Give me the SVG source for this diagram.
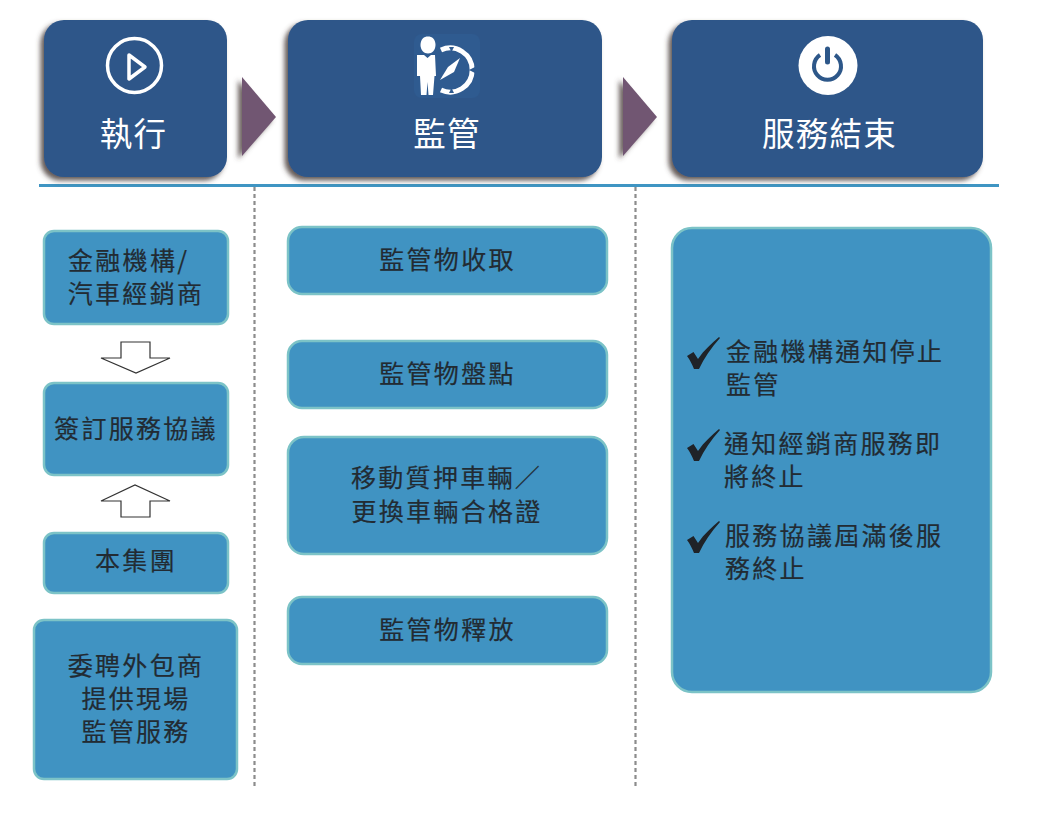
<svg xmlns="http://www.w3.org/2000/svg" width="1037" height="814" viewBox="0 0 1037 814">
<style>
text{font-family:"Noto Sans CJK TC","Noto Sans CJK SC",sans-serif;}
.h{fill:#2d5789;filter:url(#sh);}
.hd{font-size:32.500px;fill:#fff;text-anchor:middle;letter-spacing:1.2px;}
.b{fill:#4093c2;stroke:#7cc3c7;stroke-width:2.5;}
.t{font-size:25px;fill:#222b33;text-anchor:middle;letter-spacing:2.3px;stroke:#222b33;stroke-width:.2;}
.l{font-size:25px;fill:#222b33;letter-spacing:2.3px;stroke:#222b33;stroke-width:.2;}
.s{text-anchor:start;}
.a{fill:#fff;stroke:#333;stroke-width:1.2;}
.d{stroke:#8c8c8c;stroke-width:2.2;stroke-dasharray:4 3;fill:none;}
.tri{fill:#715672;filter:url(#sh2);}
.ck{fill:#1f2328;}
.nt{fill:#2f5b90;}
</style>
<defs>
<filter id="sh" x="-10%" y="-10%" width="120%" height="125%"><feDropShadow dx="-3.500" dy="3.500" stdDeviation="2.500" flood-color="#4a3c3a" flood-opacity="0.85"/></filter>
<filter id="sh2" x="-40%" y="-10%" width="160%" height="125%"><feDropShadow dx="-4" dy="3" stdDeviation="2.500" flood-color="#4a3c3a" flood-opacity="0.8"/></filter>
<path id="check" d="M0 14 L6.500 10 L11 17 C17 8 25 1 32 -5 L33 -4 C24 6 17 16 12 27 L7 27 C5 22 3 18 0 14Z"/>
</defs>

<g id="connectors">
<line x1="39" y1="185.500" x2="999" y2="185.500" stroke="#3f95c3" stroke-width="3"/>
<line class="d" x1="254.500" y1="187" x2="254.500" y2="788"/>
<line class="d" x1="635.500" y1="187" x2="635.500" y2="788"/>
<polygon class="tri" points="242,77 276,117 242,156"/>
<polygon class="tri" points="623,77 657,117 623,156"/>
<path class="a" d="M121 342H150V358H170L136 373 101 358H121Z"/>
<path class="a" d="M121 517H150V501H170L135 485 101 501H121Z"/>
</g>

<g id="node-exec">
<rect class="h" x="44" y="20" width="183" height="157" rx="20"/>
<circle cx="134.500" cy="65.500" r="27" fill="none" stroke="#fff" stroke-width="3.500"/>
<path d="M129 55L145 67 129 79Z" fill="none" stroke="#fff" stroke-width="3.500" stroke-linejoin="round"/>
<text class="hd" x="133.500" y="146">執行</text>
</g>

<g id="node-supervise">
<rect class="h" x="288" y="20" width="314" height="157" rx="20"/>
<rect x="414" y="34" width="66" height="64" rx="8" fill="#2f5b90"/>
<g fill="#fff">
<path d="M420.500 45C420.500 39 424 36.500 428 36.500 432 36.500 435.500 39 435.500 45 435.500 50 432 53.500 428 53.500 424 53.500 420.500 50 420.500 45Z"/>
<path d="M417 55H424L427.500 58 431 55H435L436 76H434.500L433 95H428.500L427.500 82 426.500 95H421L420 76H417Z"/>
</g>
<path d="M441 50A22 22 0 1 1 441 90" fill="none" stroke="#fff" stroke-width="5"/>
<path class="nt" d="M449 47L454 47 451.500 52Z"/>
<path class="nt" d="M475 67L475 73 469 70Z"/>
<path class="nt" d="M449 93L454 93 451.500 88Z"/>
<path d="M460 58L454 72 440 80 448 67Z" fill="#fff"/>
<text class="hd" x="447" y="146">監管</text>
</g>

<g id="node-end">
<rect class="h" x="672" y="20" width="311" height="157" rx="20"/>
<circle cx="828" cy="65.500" r="29.500" fill="#fff"/>
<path d="M820 55A13.500 13.500 0 1 0 835 55" fill="none" stroke="#2d5789" stroke-width="4"/>
<path d="M827.500 49V62" stroke="#2d5789" stroke-width="5" stroke-linecap="round"/>
<text class="hd" x="829.500" y="146">服務結束</text>
</g>

<g id="node-dealer"><rect class="b" x="44" y="231" width="184" height="93" rx="10"/>
<text class="t s" x="68" y="270">金融機構/</text><text class="t" x="136" y="303">汽車經銷商</text></g>
<g id="node-sign"><rect class="b" x="44" y="383" width="184" height="92" rx="10"/>
<text class="t" x="136" y="438">簽訂服務協議</text></g>
<g id="node-group"><rect class="b" x="44" y="533" width="184" height="60" rx="10"/>
<text class="t" x="136" y="570">本集團</text></g>
<g id="node-outsource"><rect class="b" x="34" y="620" width="203" height="159" rx="10"/>
<text class="t" x="136" y="675">委聘外包商</text><text class="t" x="136" y="708">提供現場</text><text class="t" x="136" y="741">監管服務</text></g>

<g id="node-receive"><rect class="b" x="288" y="227" width="319" height="67" rx="14"/>
<text class="t" x="447.500" y="269">監管物收取</text></g>
<g id="node-count"><rect class="b" x="288" y="341" width="319" height="67" rx="14"/>
<text class="t" x="447.500" y="383">監管物盤點</text></g>
<g id="node-move"><rect class="b" x="288" y="437" width="319" height="117" rx="16"/>
<text class="t s" x="351" y="487">移動質押車輛／</text><text class="t" x="447" y="521">更換車輛合格證</text></g>
<g id="node-release"><rect class="b" x="288" y="597" width="319" height="67" rx="14"/>
<text class="t" x="447.500" y="639">監管物釋放</text></g>

<g id="node-finish"><rect class="b" x="672" y="228" width="319" height="464" rx="20"/>
<use href="#check" class="ck" x="687" y="342"/>
<text class="l" x="726" y="360.500">金融機構通知停止</text><text class="l" x="726" y="393.500">監管</text>
<use href="#check" class="ck" x="687" y="434"/>
<text class="l" x="724" y="452.500">通知經銷商服務即</text><text class="l" x="724" y="485.500">將終止</text>
<use href="#check" class="ck" x="687" y="526"/>
<text class="l" x="725" y="544.500">服務協議屆滿後服</text><text class="l" x="725" y="577.500">務終止</text></g>
</svg>
